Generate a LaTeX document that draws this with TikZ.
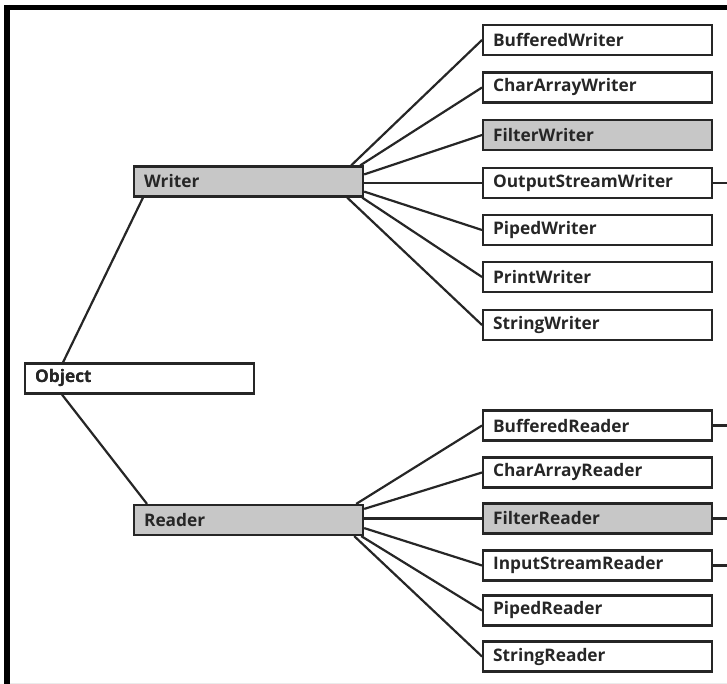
\documentclass[tikz,border=0pt]{standalone}
\usepackage{fontspec}
\setmainfont{Open Sans}
\begin{document}
\begin{tikzpicture}[x=1pt,y=-1pt,
  cls/.style={draw=black!85, line width=2.2pt, rectangle, anchor=west,
    text width=209pt, inner xsep=10pt, inner ysep=0pt, minimum height=30pt,
    align=left, font=\fontsize{17.3}{19}\selectfont\bfseries, text=black!85},
  abs/.style={cls, fill=black!22},
  link/.style={line width=2.2pt, draw=black!85}]
\useasboundingbox (0,0) rectangle (727,684);
% frame
\draw[line width=5pt] (4,7.5) -- (727,7.5);
\draw[line width=6pt] (7,5) -- (7,684);
\draw[black!8, line width=1pt] (10,683) -- (727,683);
% nodes
\node[cls] (obj) at (24,378.5) {Object};
\node[abs] (wr) at (133,181.5) {Writer};
\node[abs] (rd) at (133,520) {Reader};
\node[cls] (bw) at (482,40) {BufferedWriter};
\node[cls] (caw) at (482,87.5) {CharArrayWriter};
\node[abs] (fw) at (482,135) {FilterWriter};
\node[cls] (osw) at (482,183) {OutputStreamWriter};
\node[cls] (pw) at (482,230) {PipedWriter};
\node[cls] (prw) at (482,277) {PrintWriter};
\node[cls] (sw) at (482,325) {StringWriter};
\node[cls] (br) at (482,425.5) {BufferedReader};
\node[cls] (car) at (482,472.5) {CharArrayReader};
\node[abs] (fr) at (482,518.5) {FilterReader};
\node[cls] (isr) at (482,565.5) {InputStreamReader};
\node[cls] (pr) at (482,610.5) {PipedReader};
\node[cls] (sr) at (482,656.5) {StringReader};
% stub ends
\coordinate (e1) at (727,183);
\coordinate (e2) at (727,425.5);
\coordinate (e3) at (727,518.5);
\coordinate (e4) at (727,565.5);
% object links
\draw[link] ([xshift=39pt]obj.north west) -- ([xshift=10pt]wr.south west);
\draw[link] ([xshift=38pt]obj.south west) -- ([xshift=14pt]rd.north west);
% writer fan
\draw[link] ([xshift=-13pt]wr.north east) -- (bw.west);
\draw[link] ([xshift=-4pt]wr.north east) -- (caw.west);
\draw[link] ([yshift=-9pt]wr.north east) -- (fw.west);
\draw[link] (wr.east |- osw.west) -- (osw.west);
\draw[link] ([yshift=6pt]wr.south east) -- (pw.west);
\draw[link] ([xshift=-2pt]wr.south east) -- (prw.west);
\draw[link] ([xshift=-17pt]wr.south east) -- (sw.west);
% reader fan
\draw[link] ([xshift=-8pt]rd.north east) -- (br.west);
\draw[link] ([yshift=-5pt]rd.north east) -- (car.west);
\draw[link] (rd.east |- fr.west) -- (fr.west);
\draw[link] ([yshift=8pt]rd.south east) -- (isr.west);
\draw[link] ([xshift=-3pt]rd.south east) -- (pr.west);
\draw[link] ([xshift=-10pt]rd.south east) -- (sr.west);
% stubs
\draw[link] (osw.east) -- (e1);
\draw[link] (br.east) -- (e2);
\draw[link] (fr.east) -- (e3);
\draw[link] (isr.east) -- (e4);
% redraw boxes on top
\node[cls] at (24,378.5) {Object};
\node[abs] at (133,181.5) {Writer};
\node[abs] at (133,520) {Reader};
\end{tikzpicture}
\end{document}
